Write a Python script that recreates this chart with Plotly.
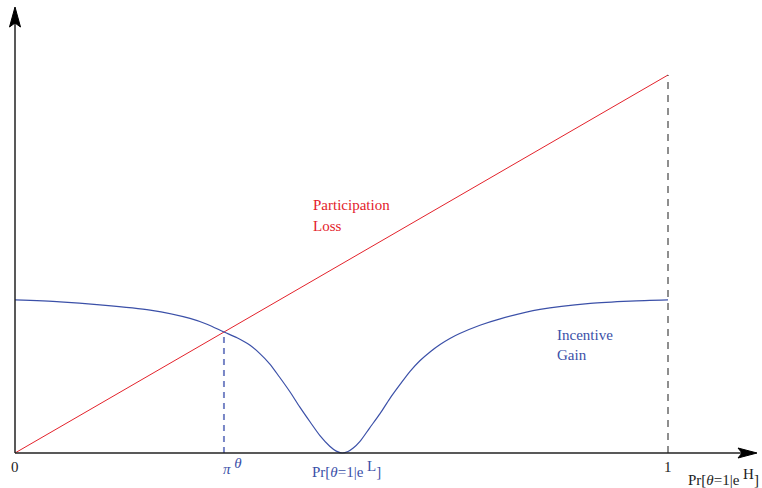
import plotly.graph_objects as go

# ---- data (x in [0,1] = Pr[theta=1|e]) ----
loss_x = [0.0, 1.0]
loss_y = [0.0, 1.0]

gain_x = [0.0, 0.069, 0.130, 0.207, 0.268, 0.295, 0.320, 0.340, 0.360, 0.375,
          0.390, 0.405, 0.421, 0.436, 0.452, 0.467, 0.482, 0.492, 0.501, 0.510,
          0.518, 0.528, 0.543, 0.559, 0.574, 0.590, 0.605, 0.620, 0.636, 0.651,
          0.666, 0.681, 0.712, 0.743, 0.804, 0.881, 0.942, 1.0]
gain_y = [0.405, 0.400, 0.392, 0.378, 0.356, 0.340, 0.320, 0.305, 0.285, 0.263,
          0.236, 0.201, 0.162, 0.122, 0.082, 0.046, 0.018, 0.005, 0.0, 0.004,
          0.013, 0.030, 0.066, 0.104, 0.144, 0.182, 0.216, 0.244, 0.268, 0.287,
          0.303, 0.316, 0.338, 0.355, 0.380, 0.396, 0.402, 0.405]

pi_theta = 0.320
x_max = 1.0

RED = "#e3222b"
BLUE = "#3b50a8"
FONT = "Liberation Serif"

fig = go.Figure()
fig.add_trace(go.Scatter(x=loss_x, y=loss_y, mode="lines",
                         line=dict(color=RED, width=1), hoverinfo="skip"))
fig.add_trace(go.Scatter(x=gain_x, y=gain_y, mode="lines", line_shape="spline",
                         line=dict(color=BLUE, width=1.2, smoothing=0.8), hoverinfo="skip"))
# dashed verticals
fig.add_trace(go.Scatter(x=[pi_theta, pi_theta], y=[0, pi_theta], mode="lines",
                         line=dict(color="#7886c6", width=2, dash="6px,5px"), hoverinfo="skip"))
fig.add_trace(go.Scatter(x=[x_max, x_max], y=[0, 1.0], mode="lines",
                         line=dict(color="#444444", width=1.2, dash="7px,6px"), hoverinfo="skip"))

# pixel->data helpers for arrow / label placement
def dx(px):
    return (px - 15) / 653.0
def dy(py):
    return (453 - py) / 378.0

shapes = [
    dict(type="line", xref="x", yref="y", x0=0, y0=0, x1=dx(745), y1=0,
         line=dict(color="#222222", width=1.5)),
    dict(type="line", xref="x", yref="y", x0=0, y0=0, x1=0, y1=dy(20),
         line=dict(color="#222222", width=1.5)),
    dict(type="path", xref="x", yref="y",
         path=f"M {dx(757)},{dy(453)} L {dx(738)},{dy(458)} L {dx(742)},{dy(453)} L {dx(738)},{dy(448)} Z",
         fillcolor="#000000", line=dict(color="#000000", width=1)),
    dict(type="path", xref="x", yref="y",
         path=f"M {dx(15)},{dy(7)} L {dx(9.5)},{dy(27)} L {dx(15)},{dy(23)} L {dx(20.5)},{dy(27)} Z",
         fillcolor="#000000", line=dict(color="#000000", width=1)),
]

ann = []
def txt(x, y, t, color="#222222", xanchor="center", size=15):
    ann.append(dict(x=x, y=y, xref="x", yref="y", text=t, showarrow=False,
                    xanchor=xanchor, yanchor="middle",
                    font=dict(family=FONT, size=size, color=color)))

SUP = "<sup><span style='font-size:15px'>{}</span></sup>"

txt(0, dy(467), "0")
txt(1.0, dy(467), "1")
txt(dx(232), dy(466), "<i>π</i> " + SUP.format("<i>θ</i>"), color=BLUE)
txt(dx(346), dy(469), "Pr[<i>θ</i>=1|e " + SUP.format("L") + "]", color=BLUE)
txt(dx(723), dy(477), "Pr[<i>θ</i>=1|e " + SUP.format("H") + "]")
txt(dx(311), dy(205), "Participation", color=RED, xanchor="left")
txt(dx(311), dy(226), "Loss", color=RED, xanchor="left")
txt(dx(555), dy(335), "Incentive", color=BLUE, xanchor="left")
txt(dx(555), dy(355), "Gain", color=BLUE, xanchor="left")

fig.update_layout(
    width=762, height=488,
    margin=dict(l=0, r=0, t=0, b=0),
    paper_bgcolor="white", plot_bgcolor="white",
    showlegend=False,
    xaxis=dict(range=[dx(0), dx(762)], visible=False, fixedrange=True),
    yaxis=dict(range=[dy(488), dy(0)], visible=False, fixedrange=True),
    shapes=shapes, annotations=ann,
)

fig.write_html("out.html", config={"displayModeBar": False},
               post_script="document.body.style.margin='0px';document.body.style.overflow='hidden';")
